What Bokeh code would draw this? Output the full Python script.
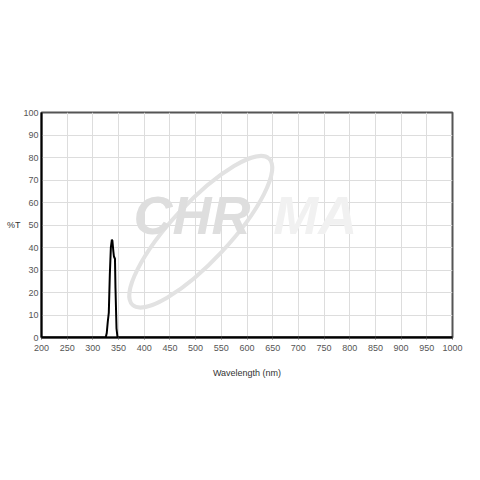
from bokeh.plotting import figure
from bokeh.models import FixedTicker, Range1d
from bokeh.embed import file_html
from bokeh.resources import INLINE
from bokeh.core.properties import value

wavelength = [200, 325, 327, 329, 331, 333, 335, 337, 338, 340, 341, 343, 344, 346, 348, 1000]
transmission = [0, 0, 2, 7, 11, 28, 40, 43.5, 43, 38, 36, 35, 22, 4, 0, 0]

x_ticks = list(range(200, 1001, 50))
y_ticks = list(range(0, 101, 10))

FONT = "Liberation Sans"

p = figure(width=470, height=470, output_backend="svg", toolbar_location=None,
           x_range=Range1d(200, 1000), y_range=Range1d(0, 100),
           min_border_left=41, min_border_right=18, min_border_top=112, min_border_bottom=133)
p.background_fill_color = "white"
p.border_fill_color = "white"
p.outline_line_color = "#555555"
p.outline_line_width = 2

# watermark
p.ellipse(x=[510], y=[47], width=[200], height=[58], width_units="screen", height_units="screen",
          angle=0.82, fill_color=None, line_color="#e2e2e2", line_width=4)
p.text(x=[379], y=[41], text=["CHR"], text_font=value(FONT), text_font_size="54px",
       text_font_style="bold italic", text_color="#dedede")
p.text(x=[651], y=[41], text=["MA"], text_font=value(FONT), text_font_size="54px",
       text_font_style="bold italic", text_color="#f1f1f1")

p.line(wavelength, transmission, line_color="black", line_width=2)

p.xaxis.ticker = FixedTicker(ticks=x_ticks)
p.yaxis.ticker = FixedTicker(ticks=y_ticks)
p.xgrid.grid_line_color = "#dddddd"
p.ygrid.grid_line_color = "#dddddd"
for ax in (p.xaxis[0], p.yaxis[0]):
    ax.axis_line_color = "black"
    ax.axis_line_width = 2
    ax.major_tick_line_color = "#555555"
    ax.major_tick_in = 0
    ax.major_tick_out = 2
    ax.minor_tick_line_color = None
    ax.major_label_text_font = FONT
    ax.major_label_text_font_size = "9px"
    ax.major_label_text_color = "#555555"
    ax.axis_label_text_font = FONT
    ax.axis_label_text_font_size = "9px"
    ax.axis_label_text_font_style = "normal"
    ax.axis_label_text_color = "#333333"

p.xaxis.axis_label = "Wavelength (nm)"
p.xaxis.axis_label_standoff = 14
p.yaxis.axis_label = "%T"
p.yaxis.axis_label_orientation = "horizontal"
p.yaxis.axis_label_standoff = 0
p.yaxis.major_tick_out = 0
p.yaxis.major_label_standoff = 3

open("out.html", "w").write(file_html(p, INLINE))
